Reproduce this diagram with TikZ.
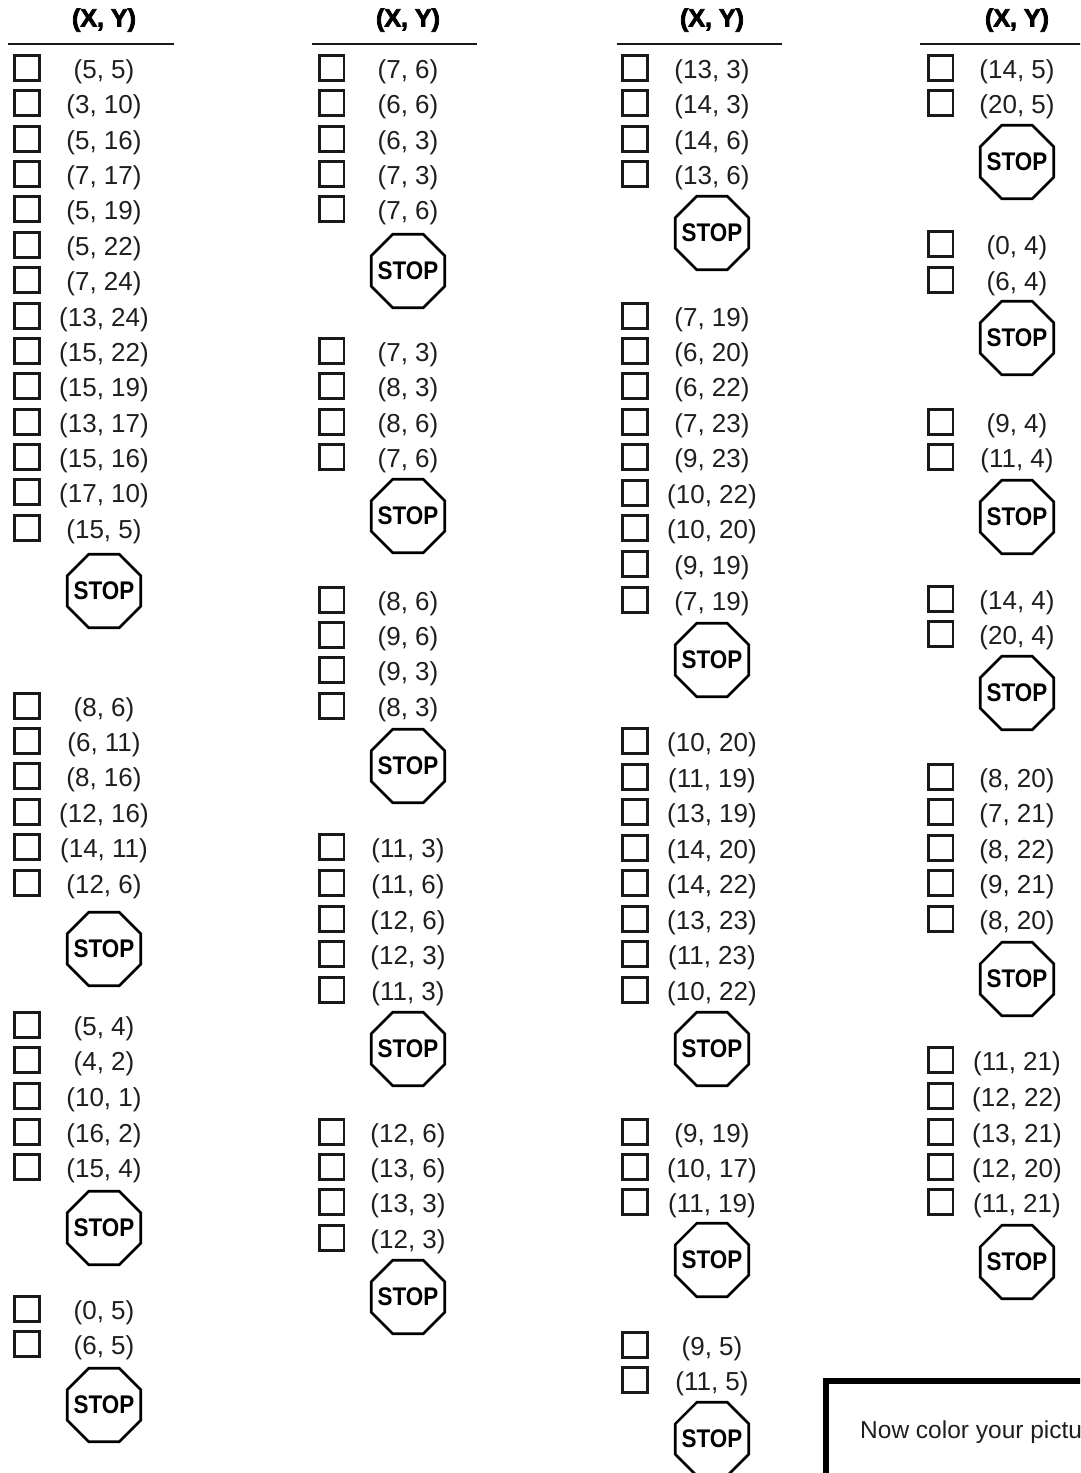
\documentclass[tikz,border=0pt]{standalone}
\usepackage{fontspec}
\usetikzlibrary{shapes.geometric}
\setmainfont{Liberation Sans}
\newfontfamily\stopfont[FakeStretch=0.88]{Liberation Sans Bold}
\newfontfamily\headfont[FakeBold=3]{Liberation Sans Bold}
\definecolor{ink}{HTML}{1E1E1E}
\tikzset{
  tickbox/.style={draw=black!90,line width=2.6pt,minimum size=24.5pt,inner sep=0pt,fill=white},
  coord/.style={anchor=base,inner sep=0pt,text=ink,font=\fontsize{26}{30}\selectfont},
  header/.style={anchor=base,inner sep=0pt,text=black,font=\headfont\fontsize{25}{30}\selectfont},
  headrule/.style={line width=2.8pt,draw=black!90},
  stopsign/.style={draw=black,line width=2.6pt,shape=regular polygon,regular polygon sides=8,
     minimum size=79.5pt,inner sep=0pt,text=black,
     font=\stopfont\fontsize{25.5}{30}\selectfont},
  notebox/.style={line width=6pt,draw=black,line join=miter},
  note/.style={anchor=base west,inner sep=0pt,text=ink,font=\fontsize{24.5}{29}\selectfont}
}
\newcommand\colrows[4]{%
  \foreach \yy/\tt in {#4}{%
    \pgfmathsetmacro\ybase{\yy+9}
    \pgfmathsetmacro\ybox{\yy-1}
    \node[tickbox] (box#1-\yy) at (#2,\ybox) {};
    \node[coord] (lab#1-\yy) at (#3,\ybase) {\tt};
  }%
}
\newcommand\stopat[3]{\node[stopsign] (stop#1) at (#2,#3) {\raisebox{-8.2pt}[0pt][0pt]{\makebox[0pt]{STOP}}};}
\newcommand\colhead[4]{%
  \node[header] (head#1) at (#2,26.5) {(X, Y)};
  \coordinate (ruleL#1) at (#3,44);
  \coordinate (ruleR#1) at (#4,44);
  \draw[headrule] (ruleL#1) -- (ruleR#1);
}
\begin{document}
\begin{tikzpicture}[x=1pt,y=-1pt]
\useasboundingbox (0,0) rectangle (1080,1473);
\clip (0,0) rectangle (1080,1473);
% column 1
\colhead{a}{104}{8}{174}
\colrows{a}{27}{104}{69/{(5, 5)},104/{(3, 10)},140/{(5, 16)},175/{(7, 17)},210/{(5, 19)},246/{(5, 22)},281/{(7, 24)},317/{(13, 24)},352/{(15, 22)},387/{(15, 19)},423/{(13, 17)},458/{(15, 16)},493/{(17, 10)},529/{(15, 5)}}
\stopat{a1}{104}{591}
\colrows{a}{27}{104}{707/{(8, 6)},742/{(6, 11)},777/{(8, 16)},813/{(12, 16)},848/{(14, 11)},884/{(12, 6)}}
\stopat{a2}{104}{949}
\colrows{a}{27}{104}{1026/{(5, 4)},1061/{(4, 2)},1097/{(10, 1)},1133/{(16, 2)},1168/{(15, 4)}}
\stopat{a3}{104}{1228}
\colrows{a}{27}{104}{1310/{(0, 5)},1345/{(6, 5)}}
\stopat{a4}{104}{1405}
% column 2
\colhead{b}{408}{312}{477}
\colrows{b}{331.7}{408}{69/{(7, 6)},104/{(6, 6)},140/{(6, 3)},175/{(7, 3)},210/{(7, 6)}}
\stopat{b1}{408}{271}
\colrows{b}{331.7}{408}{352/{(7, 3)},387/{(8, 3)},423/{(8, 6)},458/{(7, 6)}}
\stopat{b2}{408}{516}
\colrows{b}{331.7}{408}{601/{(8, 6)},636/{(9, 6)},671/{(9, 3)},707/{(8, 3)}}
\stopat{b3}{408}{766}
\colrows{b}{331.7}{408}{848/{(11, 3)},884/{(11, 6)},920/{(12, 6)},955/{(12, 3)},991/{(11, 3)}}
\stopat{b4}{408}{1049}
\colrows{b}{331.7}{408}{1133/{(12, 6)},1168/{(13, 6)},1203/{(13, 3)},1239/{(12, 3)}}
\stopat{b5}{408}{1297}
% column 3
\colhead{c}{712}{617}{782}
\colrows{c}{635}{712}{69/{(13, 3)},104/{(14, 3)},140/{(14, 6)},175/{(13, 6)}}
\stopat{c1}{712}{233}
\colrows{c}{635}{712}{317/{(7, 19)},352/{(6, 20)},387/{(6, 22)},423/{(7, 23)},458/{(9, 23)},494/{(10, 22)},529/{(10, 20)},565/{(9, 19)},601/{(7, 19)}}
\stopat{c2}{712}{660}
\colrows{c}{635}{712}{742/{(10, 20)},778/{(11, 19)},813/{(13, 19)},849/{(14, 20)},884/{(14, 22)},920/{(13, 23)},955/{(11, 23)},991/{(10, 22)}}
\stopat{c3}{712}{1049}
\colrows{c}{635}{712}{1133/{(9, 19)},1168/{(10, 17)},1203/{(11, 19)}}
\stopat{c4}{712}{1260}
\colrows{c}{635}{712}{1346/{(9, 5)},1381/{(11, 5)}}
\stopat{c5}{712}{1439}
% column 4
\colhead{d}{1017}{920}{1085}
\colrows{d}{940.7}{1017}{69/{(14, 5)},104/{(20, 5)}}
\stopat{d1}{1017}{162}
\colrows{d}{940.7}{1017}{245/{(0, 4)},281/{(6, 4)}}
\stopat{d2}{1017}{338}
\colrows{d}{940.7}{1017}{423/{(9, 4)},458/{(11, 4)}}
\stopat{d3}{1017}{517}
\colrows{d}{940.7}{1017}{600/{(14, 4)},635/{(20, 4)}}
\stopat{d4}{1017}{693}
\colrows{d}{940.7}{1017}{778/{(8, 20)},813/{(7, 21)},849/{(8, 22)},884/{(9, 21)},920/{(8, 20)}}
\stopat{d5}{1017}{979}
\colrows{d}{940.7}{1017}{1061/{(11, 21)},1097/{(12, 22)},1133/{(13, 21)},1168/{(12, 20)},1203/{(11, 21)}}
\stopat{d6}{1017}{1262}
% note box
\draw[notebox] (826,1490) -- (826,1381) -- (1090,1381);
\node[note] (notetext) at (860,1438) {Now color your pictu};
\end{tikzpicture}
\end{document}
